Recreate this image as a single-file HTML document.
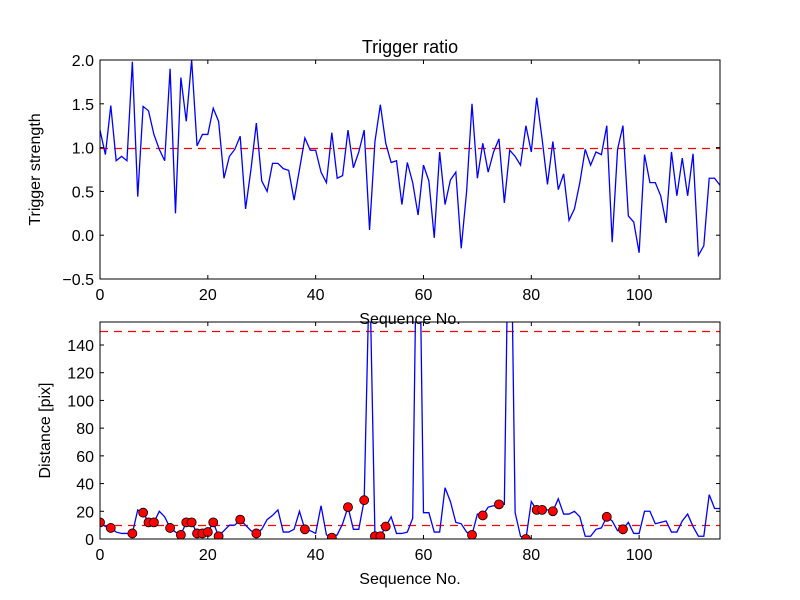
<!DOCTYPE html>
<html><head><meta charset="utf-8"><style>
body{margin:0;background:#fff}
svg{display:block;font-family:"Liberation Sans","DejaVu Sans",sans-serif}
</style></head><body>
<svg id="chart" width="800" height="600" viewBox="0 0 800 600">
<rect width="800" height="600" fill="#fff"/>
<defs>
<clipPath id="c1"><rect x="100" y="60" width="620" height="219"/></clipPath>
<clipPath id="c2"><rect x="100" y="322" width="620" height="217"/></clipPath>
</defs>
<text x="410" y="53" font-size="18" text-anchor="middle">Trigger ratio</text>
<g id="g1"></g><g id="g2"></g>
</svg>
<script>
const ratio=[1.2,0.92,1.48,0.85,0.9,0.85,1.98,0.44,1.47,1.42,1.15,0.98,0.85,1.9,0.25,1.8,1.3,2.0,1.02,1.15,1.15,1.45,1.3,0.65,0.9,0.98,1.13,0.3,0.75,1.28,0.62,0.5,0.82,0.82,0.76,0.74,0.4,0.75,1.11,0.97,0.97,0.72,0.6,1.17,0.65,0.68,1.2,0.77,0.95,1.2,0.06,1.07,1.49,1.05,0.83,0.85,0.35,0.83,0.6,0.23,0.8,0.62,-0.03,0.95,0.35,0.63,0.72,-0.15,0.5,1.5,0.65,1.05,0.72,0.95,1.1,0.37,0.97,0.9,0.8,1.25,0.95,1.57,1.1,0.58,1.07,0.52,0.7,0.17,0.3,0.6,0.98,0.8,0.95,0.92,1.25,-0.08,0.98,1.25,0.22,0.15,-0.2,0.92,0.6,0.6,0.45,0.14,0.95,0.45,0.88,0.45,0.93,-0.23,-0.12,0.65,0.65,0.57];
const dist=[12,9,8,5,4,4,4,21,19,12,12,20,16,8,5,3,12,12,4,4,5,12,2,6,10,10,14,10,6,4,7,14,17,21,5,5,7,20,7,6,4,24,3,1,3,11,23,7,7,28,200,2,2,9,16,4,4,5,15,300,19,19,5,5,37,27,12,11,5,3,18,17,23,24,25,25,300,19,2,0,27,21,21,21,20,29,18,18,20,16,2,2,7,8,16,13,6,7,12,4,4,20,20,11,12,13,5,5,13,18,9,2,2,32,22,22];
const ratioThreshold=[1.0];
const distThresholds=[150,10];
const xTicks=[0,20,40,60,80,100];
const y1Ticks=[-0.5,0,0.5,1.0,1.5,2.0];
const y1Labels=["\u22120.5","0.0","0.5","1.0","1.5","2.0"];
const y2Ticks=[0,20,40,60,80,100,120,140];
const NS="http://www.w3.org/2000/svg";
function mk(p,t,a){const e=document.createElementNS(NS,t);for(const k in a)e.setAttribute(k,a[k]);p.appendChild(e);return e;}
const L=100,R=720;
const xs=v=>L+(v-0)/(115-0)*(R-L);
const g1=document.getElementById('g1'),g2=document.getElementById('g2');
const y1=v=>279-(v+0.5)/2.5*219;
const y2=v=>539-v/156.6*217;
const snap=y=>Math.round(y)+0.5;
function frame(g,T,B,ys,ticks,labels,ylab,ylabX,nm){
  xTicks.forEach(t=>{const x=xs(t);
    const a=mk(g,'line',{x1:x,x2:x,y1:B,y2:B-4,stroke:'#000'});
    
    mk(g,'line',{x1:x,x2:x,y1:T,y2:T+4,stroke:'#000'});
    const tx=mk(g,'text',{x:x,y:B+21,'font-size':16,'text-anchor':'middle'});tx.textContent=t;
    
  });
  ticks.forEach((t,i)=>{const y=ys(t);
    mk(g,'line',{x1:L,x2:L+4,y1:y,y2:y,stroke:'#000'});
    mk(g,'line',{x1:R,x2:R-4,y1:y,y2:y,stroke:'#000'});
    const tx=mk(g,'text',{x:L-6,y:y+6,'font-size':16,'text-anchor':'end'});tx.textContent=labels[i];
    
  });
  const f=mk(g,'rect',{x:L,y:T,width:R-L,height:B-T,fill:'none',stroke:'#000','stroke-width':1});
  
  const xl=mk(g,'text',{x:410,y:B+45,'font-size':16,'text-anchor':'middle'});xl.textContent='Sequence No.';
  
  const yl=mk(g,'text',{x:ylabX,y:(T+B)/2,'font-size':16,'text-anchor':'middle',transform:`rotate(-90 ${ylabX} ${(T+B)/2})`});yl.textContent=ylab;
  
}
ratioThreshold.forEach(v=>{const l=mk(g1,'line',{x1:L,x2:R,y1:snap(y1(v)),y2:snap(y1(v)),stroke:'#f00','stroke-dasharray':'8,6','stroke-width':1.2});
  });
const p1=mk(g1,'polyline',{points:ratio.map((v,i)=>xs(i)+','+y1(v)).join(' '),fill:'none',stroke:'#00f','stroke-width':1.3,'clip-path':'url(#c1)'});

frame(g1,60,279,y1,y1Ticks,y1Labels,'Trigger strength',40,'top');
distThresholds.forEach(v=>{const l=mk(g2,'line',{x1:L,x2:R,y1:snap(y2(v)),y2:snap(y2(v)),stroke:'#f00','stroke-dasharray':'8,6','stroke-width':1.2});
  });
const p2=mk(g2,'polyline',{points:dist.map((v,i)=>xs(i)+','+y2(v)).join(' '),fill:'none',stroke:'#00f','stroke-width':1.3,'clip-path':'url(#c2)'});

const mg=mk(g2,'g',{'clip-path':'url(#c2)'});
dist.forEach((v,i)=>{if(ratio[i]>ratioThreshold[0]){
  const c=mk(mg,'circle',{cx:xs(i),cy:y2(v),r:4.5,fill:'#f00',stroke:'#000','stroke-width':0.8});
  
  
}});
frame(g2,322,539,y2,y2Ticks,y2Ticks.map(String),'Distance [pix]',50,'bottom');
</script>
</body></html>
